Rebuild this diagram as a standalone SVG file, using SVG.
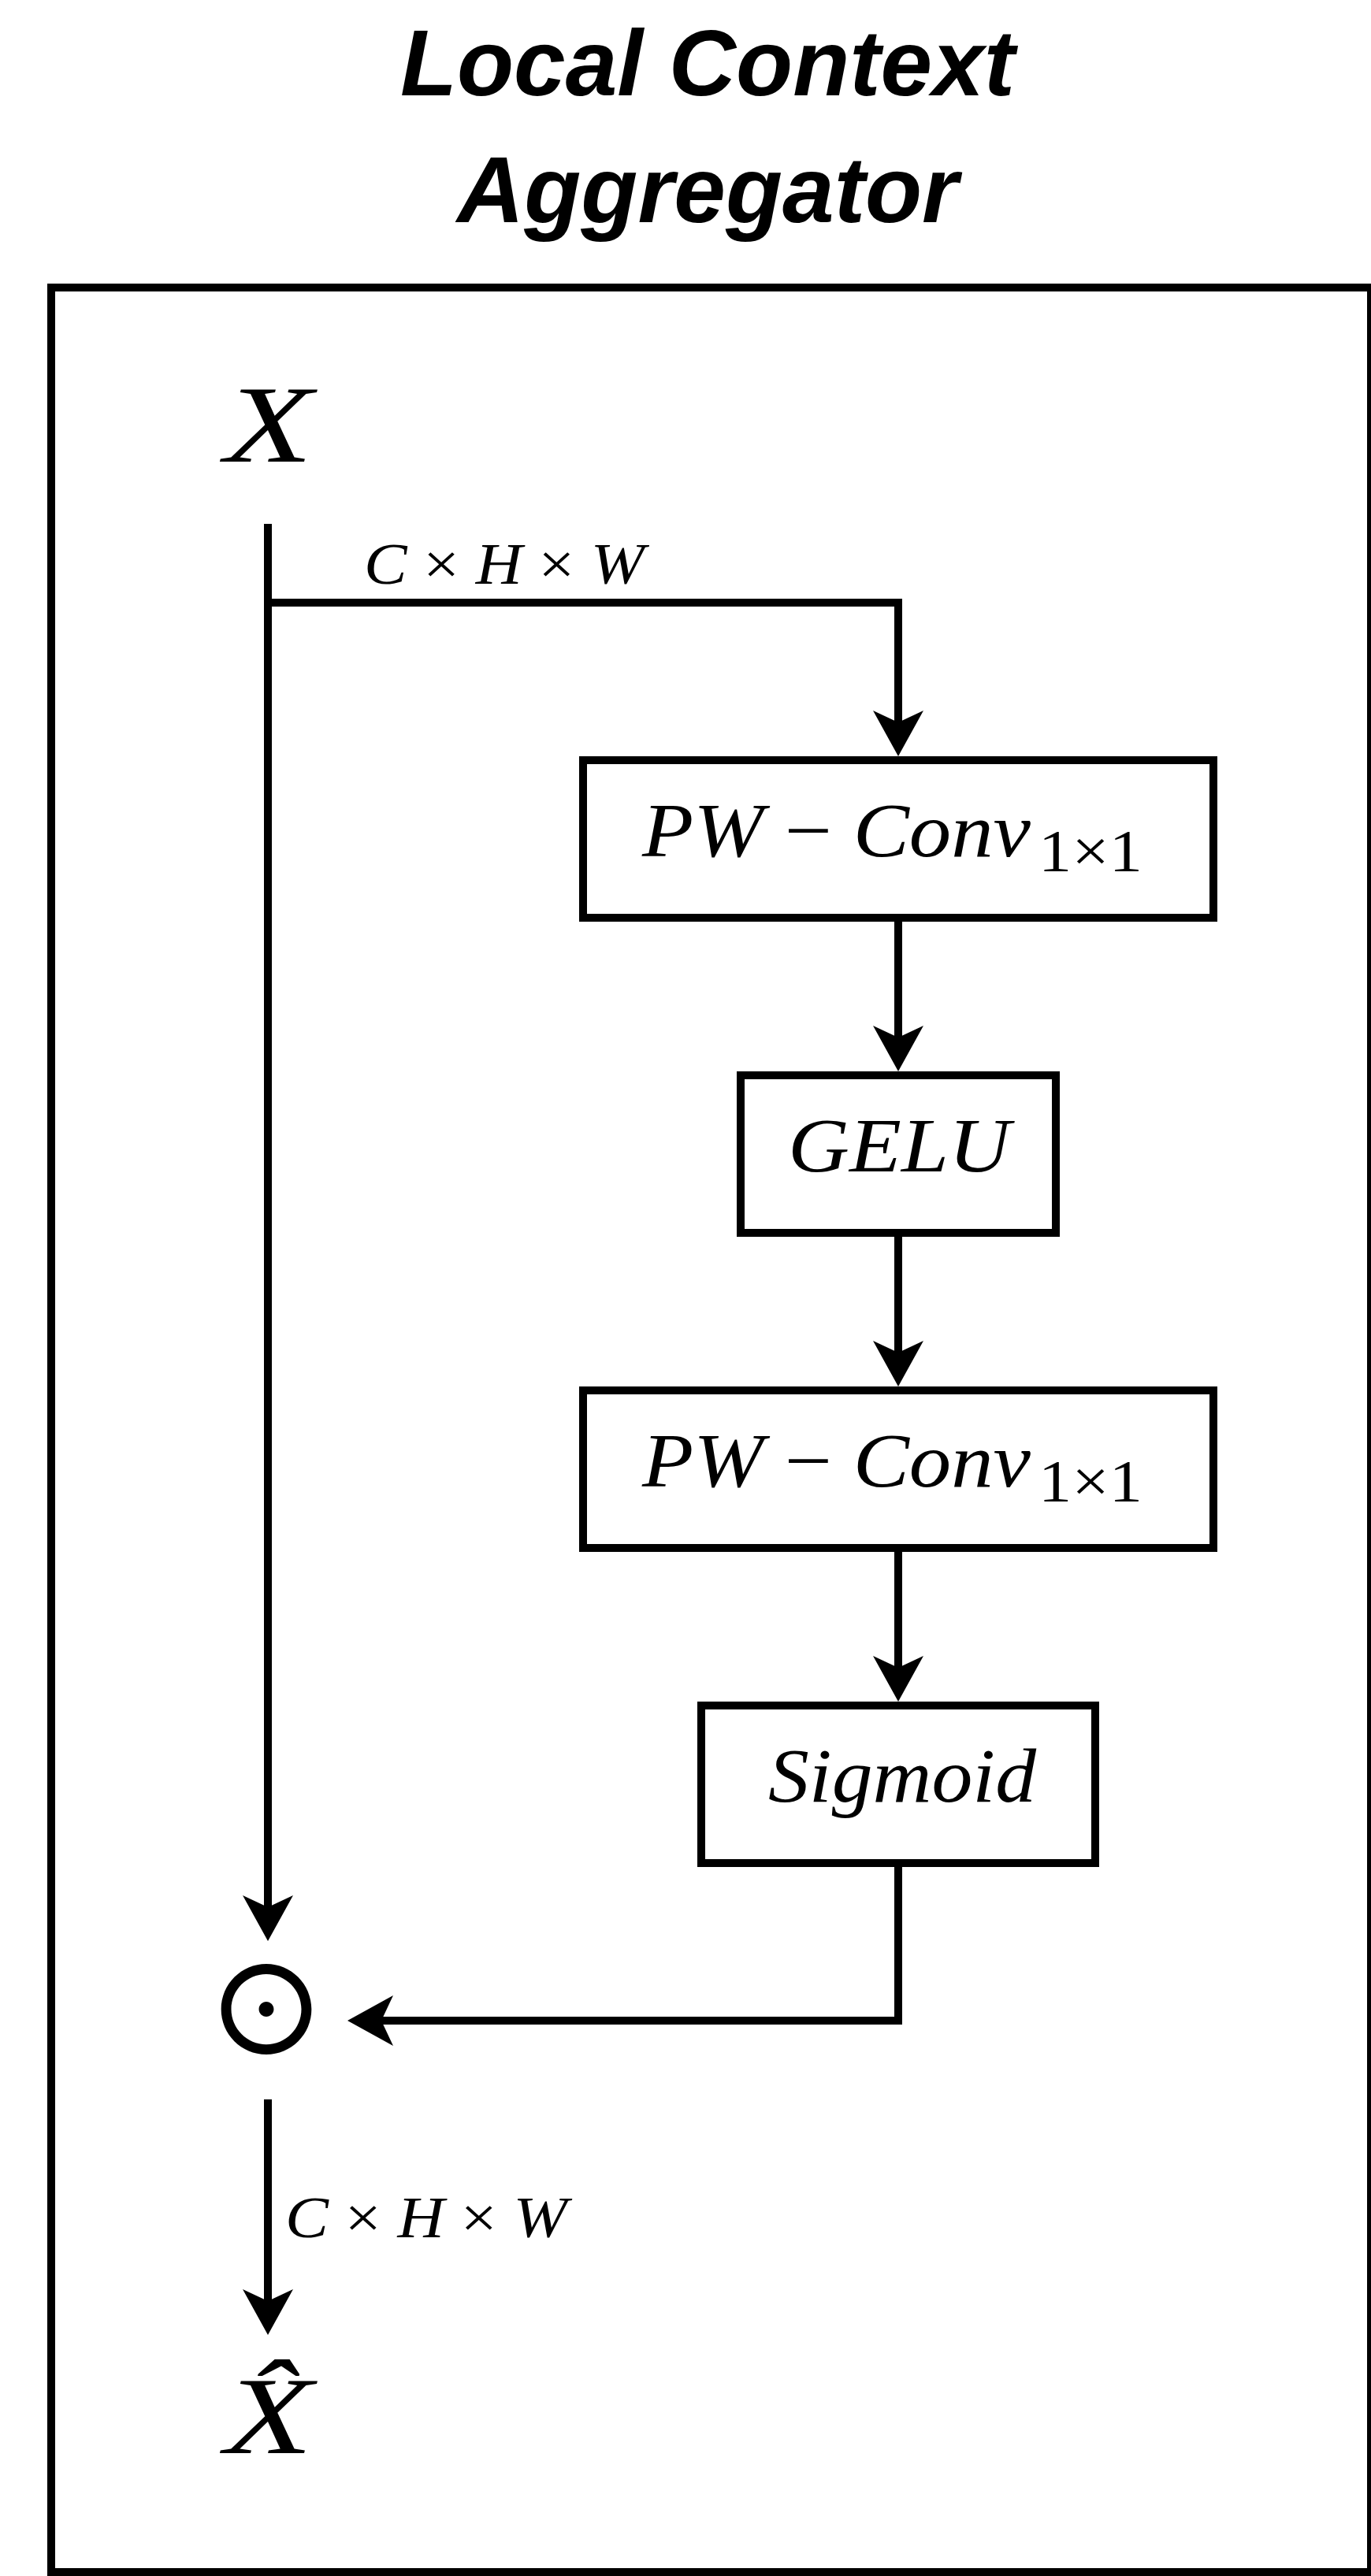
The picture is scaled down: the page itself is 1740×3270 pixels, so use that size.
<svg xmlns="http://www.w3.org/2000/svg" width="1740" height="3270" viewBox="0 0 1740 3270">
  <style>
    .frame { fill: none; stroke: #000; stroke-width: 10; }
    .box { fill: #fff; stroke: #000; stroke-width: 10; }
    .edge { fill: none; stroke: #000; stroke-width: 10; stroke-linejoin: miter; }
    .title { font-family: "Liberation Sans", Arial, sans-serif; font-weight: bold; font-style: italic; font-size: 118px; fill: #000; }
    .math { font-family: "Liberation Serif", "Times New Roman", serif; font-style: italic; fill: #000; }
    .up { font-style: normal; }
    .big { font-size: 140px; }
    .node { font-size: 97px; }
    .sub { font-size: 77px; font-style: normal; }
    .dim { font-size: 74px; }
    .op { font-family: "Noto Sans CJK SC", "DejaVu Sans", sans-serif; font-weight: 500; font-size: 155px; fill: #000; }
  </style>
  <defs>
    <marker id="arrow" markerUnits="userSpaceOnUse" markerWidth="64" markerHeight="68" viewBox="-60 -34 64 68" refX="-40" refY="0" orient="auto">
      <path d="M0,0 L-58,-32 L-43,0 L-58,32 Z" fill="#000"/>
    </marker>
  </defs>
  <rect width="1740" height="3270" fill="#fff"/>

  <g id="title">
    <text class="title" x="898" y="121" text-anchor="middle">Local Context</text>
    <text class="title" x="898" y="282" text-anchor="middle">Aggregator</text>
  </g>

  <g id="frame">
    <rect class="frame" x="65" y="365" width="1675" height="2900"/>
  </g>

  <g id="connectors">
    <path class="edge" d="M340,665 V2424" marker-end="url(#arrow)"/>
    <path class="edge" d="M340,765 H1140 V920" marker-end="url(#arrow)"/>
    <path class="edge" d="M1140,1170 V1320" marker-end="url(#arrow)"/>
    <path class="edge" d="M1140,1570 V1720" marker-end="url(#arrow)"/>
    <path class="edge" d="M1140,1970 V2120" marker-end="url(#arrow)"/>
    <path class="edge" d="M1140,2370 V2565 H481" marker-end="url(#arrow)"/>
    <path class="edge" d="M340,2665 V2924" marker-end="url(#arrow)"/>
    <text class="math dim" x="462" y="741" textLength="356" lengthAdjust="spacingAndGlyphs">C <tspan class="up">×</tspan> H <tspan class="up">×</tspan> W</text>
    <text class="math dim" x="362" y="2840" textLength="358" lengthAdjust="spacingAndGlyphs">C <tspan class="up">×</tspan> H <tspan class="up">×</tspan> W</text>
  </g>

  <g id="input-x">
    <text class="math big" x="285" y="586" textLength="112" lengthAdjust="spacingAndGlyphs">X</text>
  </g>

  <g id="pwconv-1">
    <rect class="box" x="740" y="965" width="800" height="200"/>
    <text class="math node" x="815" y="1087"><tspan textLength="493" lengthAdjust="spacingAndGlyphs">PW <tspan class="up">−</tspan> Conv</tspan><tspan class="sub" x="1318" y="1106" textLength="132" lengthAdjust="spacingAndGlyphs">1×1</tspan></text>
  </g>

  <g id="gelu">
    <rect class="box" x="940" y="1365" width="400" height="200"/>
    <text class="math node" x="1000" y="1487" textLength="282" lengthAdjust="spacingAndGlyphs">GELU</text>
  </g>

  <g id="pwconv-2">
    <rect class="box" x="740" y="1765" width="800" height="200"/>
    <text class="math node" x="815" y="1887"><tspan textLength="493" lengthAdjust="spacingAndGlyphs">PW <tspan class="up">−</tspan> Conv</tspan><tspan class="sub" x="1318" y="1906" textLength="132" lengthAdjust="spacingAndGlyphs">1×1</tspan></text>
  </g>

  <g id="sigmoid">
    <rect class="box" x="890" y="2165" width="500" height="200"/>
    <text class="math node" x="975" y="2287" textLength="340" lengthAdjust="spacingAndGlyphs">Sigmoid</text>
  </g>

  <g id="odot">
    <text class="op" x="338" y="2609" text-anchor="middle">⊙</text>
  </g>

  <g id="output-xhat">
    <text class="math big" x="285" y="3114" textLength="112" lengthAdjust="spacingAndGlyphs">X̂</text>
  </g>
</svg>
